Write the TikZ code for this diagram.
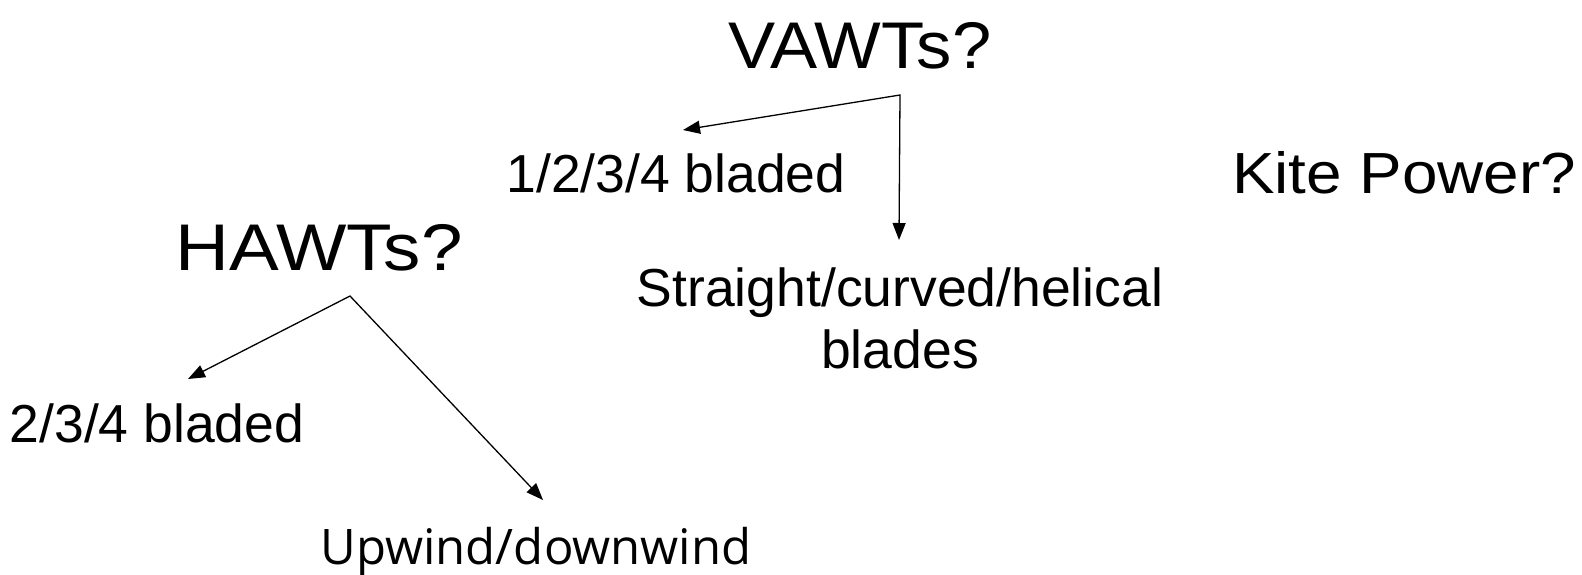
\documentclass[tikz,border=0pt]{standalone}
\usepackage{fontspec}
\usepackage{graphicx}
\setmainfont{Liberation Sans}
\newfontfamily\uifont{Open Sans}
\usetikzlibrary{arrows.meta}
\tikzset{
  title/.style={anchor=base, inner sep=0pt, font=\fontsize{66}{72}\selectfont},
  kite/.style={anchor=base, inner sep=0pt, font=\fontsize{58}{64}\selectfont},
  label/.style={anchor=base, inner sep=0pt, font=\fontsize{53.5}{58}\selectfont},
  uilabel/.style={anchor=base, inner sep=0pt, font=\uifont\fontsize{49}{54}\selectfont},
  branch/.style={line width=1.3pt, {Triangle[length=17pt,width=13pt]}-{Triangle[length=17pt,width=13pt]}}
}
\begin{document}
\begin{tikzpicture}[x=1pt, y=-1pt]
  \useasboundingbox (0,0) rectangle (1582,574);

  % headings (set slightly wide)
  \node[title] (vawt) at (860,68) {\scalebox{1.07}[1]{VAWTs?}};
  \node[title] (hawt) at (319,270) {\scalebox{1.13}[1]{HAWTs?}};
  \node[kite]  (kite) at (1404,193) {\scalebox{1.10}[1]{Kite Power?}};

  % VAWT options
  \node[label] (vblade) at (676,192) {1/2/3/4 bladed};
  \node[label] (vshape) at (900,306) {Straight/curved/helical};
  \node[label] (vshape2) at (900,368) {blades};

  % HAWT options
  \node[label] (hblade) at (157,442) {2/3/4 bladed};
  \node[uilabel] (hwind) at (536,564) {Upwind/downwind};

  % branch points and arrow tips
  \coordinate (vsplit) at (900,95);
  \coordinate (vtipA) at (683,130);
  \coordinate (vtipB) at (899,240);
  \coordinate (hsplit) at (350,296);
  \coordinate (htipA) at (188,379);
  \coordinate (htipB) at (543,500);

  \draw[branch] (vtipA) -- (vsplit) -- (vtipB);
  \draw[branch] (htipA) -- (hsplit) -- (htipB);
\end{tikzpicture}
\end{document}
